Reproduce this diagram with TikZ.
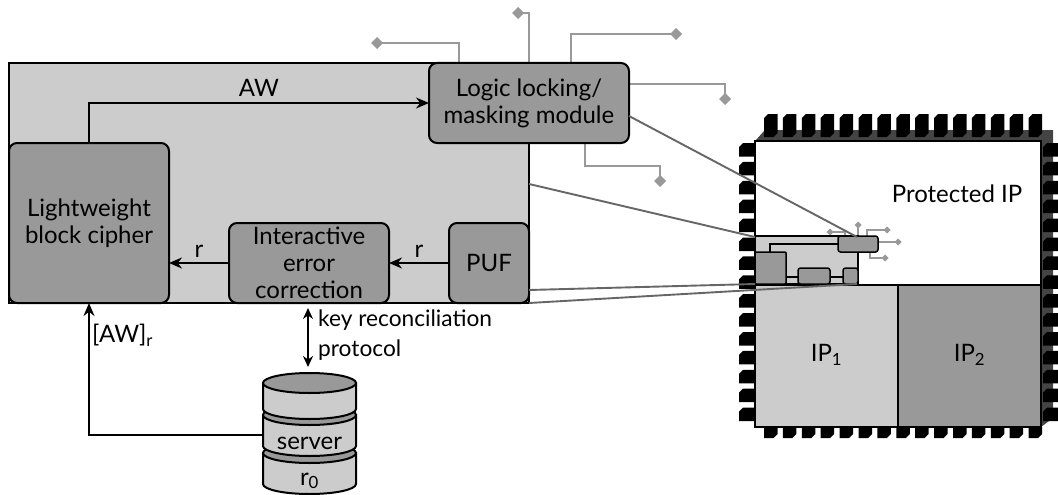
\documentclass[tikz,border=0pt]{standalone}
\usepackage{fontspec}
\setmainfont{Lato}
\usetikzlibrary{arrows.meta}
\definecolor{lg}{HTML}{CCCCCC}
\definecolor{mg}{HTML}{999999}
\definecolor{dg}{HTML}{666666}
\definecolor{cg}{HTML}{444444}
\tikzset{
  x=1pt,y=-1pt,
  panel/.style={draw=black,line width=2pt,fill=lg,inner sep=0pt,outer sep=0pt,anchor=north west},
  block/.style={draw=black,line width=2pt,fill=mg,rounded corners=8pt,inner sep=0pt,outer sep=0pt,anchor=north west,align=center,font=\fontsize{24}{27}\selectfont},
  miniblock/.style={draw=black,line width=1.5pt,fill=mg,rounded corners=2.5pt,inner sep=0pt,outer sep=0pt,anchor=north west},
  wire/.style={draw=mg,line width=1.9pt},
  miniwire/.style={draw=mg,line width=1.3pt},
  zoomline/.style={draw=dg,line width=1.9pt},
  flow/.style={draw=black,line width=2pt,-{Stealth[length=13pt,width=11pt]}},
  biflow/.style={draw=black,line width=2pt,{Stealth[length=11pt,width=10pt]}-{Stealth[length=11pt,width=10pt]}},
  miniflow/.style={draw=black,line width=1.5pt},
  lbl/.style={font=\fontsize{24}{27}\selectfont,inner sep=0pt},
  slbl/.style={font=\fontsize{22.7}{27}\selectfont,inner sep=0pt},
  pinshape/.style={fill=black,draw=none},
}
\newcommand{\dia}[3]{\fill[mg] (#2-#3,#1) -- (#2,#1-#3) -- (#2+#3,#1) -- (#2,#1+#3) -- cycle;}
\begin{document}
\begin{tikzpicture}
\useasboundingbox (0,0) rectangle (1058,495);
% chip body
\fill[cg] (755,141) -- (765,130) -- (1053,130) -- (1053,418) -- (1041,427) -- cycle;
\foreach \i in {0,...,14}{
  \pgfmathsetmacro{\p}{18.9*\i}
  \fill[pinshape] (764+\p,118) -- (768+\p,114) -- (777.5+\p,114) -- (777.5+\p,133) -- (773.5+\p,137) -- (764+\p,137) -- cycle;
  \fill[pinshape] (764+\p,427) -- (777.5+\p,427) -- (777.5+\p,434) -- (773.5+\p,438) -- (764+\p,438) -- cycle;
  \fill[pinshape] (739,147+\p) -- (743,143+\p) -- (755,143+\p) -- (755,156.5+\p) -- (739,156.5+\p) -- cycle;
  \fill[pinshape] (1043,147+\p) -- (1047,143+\p) -- (1058,143+\p) -- (1058,156.5+\p) -- (1043,156.5+\p) -- cycle;
}
\node[panel,fill=white,minimum width=286pt,minimum height=286pt] (chip) at (755,141) {};
\node[panel,minimum width=143pt,minimum height=142pt,line width=1.5pt] (ip1) at (755,285) {};
\node[panel,fill=mg,minimum width=143pt,minimum height=142pt,line width=1.5pt] (ip2) at (898,285) {};
\node[lbl] at (826.5,355) {IP\textsubscript{1}};
\node[lbl] at (969.5,355) {IP\textsubscript{2}};
\node[lbl] at (957,194) {Protected IP};
% mini grey wires
\draw[miniwire] (845,236) -- (845,232) -- (830,232);
\draw[miniwire] (858,236) -- (858,225);
\draw[miniwire] (867,236) -- (867,230) -- (887,230);
\draw[miniwire] (878,242) -- (898,242);
\draw[miniwire] (870,252) -- (870,258) -- (885,258);
\dia{232}{830}{3.5} \dia{225}{858}{3.5} \dia{230}{887}{3.5} \dia{242}{898}{3.5} \dia{258}{885}{3.5}
% mini panel
\node[panel,line width=1.5pt,minimum width=103pt,minimum height=48pt] (mp) at (755,236) {};
\draw[miniflow] (770,252) -- (770,244) -- (838,244);
\draw[miniflow] (786,277) -- (798,277) (830,277) -- (843,277);
\node[miniblock,minimum width=31pt,minimum height=32pt,rounded corners=1pt] (mc) at (755,252) {};
\node[miniblock,minimum width=32pt,minimum height=16pt] (mi) at (798,268) {};
\node[miniblock,minimum width=15pt,minimum height=16pt] (mpuf) at (843,268) {};
\node[miniblock,minimum width=40pt,minimum height=16pt] (ml) at (838,236) {};
% grey wires
\draw[wire] (459,63) -- (459,43) -- (377,43);
\draw[wire] (529,63) -- (529,13) -- (518,13);
\draw[wire] (571,63) -- (571,34) -- (676,34);
\draw[wire] (629,84) -- (725,84) -- (725,99);
\draw[wire] (585,143) -- (585,166) -- (660,166) -- (660,181);
\dia{43}{377}{6} \dia{13}{518}{6} \dia{34}{676}{6} \dia{99}{725}{6} \dia{181}{660}{6}
% main panel
\node[panel,minimum width=520pt,minimum height=240pt] (main) at (9,63) {};
\node[block,minimum width=200pt,minimum height=80pt] (logic) at (429,63) {Logic locking/\\masking module};
\node[block,minimum width=160pt,minimum height=160pt] (cipher) at (9,143) {Lightweight\\block cipher};
\node[block,minimum width=160pt,minimum height=80pt] (iec) at (229,223) {Interactive\\error\\correction};
\node[block,minimum width=80pt,minimum height=80pt] (puf) at (449,223) {PUF};
\coordinate (c1) at (89,143);
\coordinate (c2) at (89,103);
\draw[flow] (c1) -- (c2) -- (logic.west |- c2);
\draw[flow] (puf.west) -- (iec.east);
\draw[flow] (iec.west) -- (cipher.east |- iec.west);
\node[lbl] at (259,88) {AW};
\node[lbl] at (419,251) {r};
\node[lbl] at (199,251) {r};
% zoom lines
\coordinate (z1) at (857,237);
\coordinate (z2) at (755,237);
\coordinate (z3) at (755,284);
\coordinate (z4) at (857,284);
\coordinate (m1) at (629,116);
\coordinate (m2) at (529,184);
\coordinate (m3) at (529,290);
\coordinate (m4) at (529,303);
\draw[zoomline] (m1) -- (z1);
\draw[zoomline] (m2) -- (z2);
\draw[zoomline] (m3) -- (z3);
\draw[zoomline] (m4) -- (z4);
% server
\begin{scope}[draw=black,line width=2pt]
\filldraw[fill=lg] (263,453) -- (263,484) arc[start angle=180,end angle=360,x radius=46.5,y radius=-10] -- (356,453) -- cycle;
\filldraw[fill=mg] (309.5,453) ellipse[x radius=46.5,y radius=10];
\filldraw[fill=lg] (263,415) -- (263,446) arc[start angle=180,end angle=360,x radius=46.5,y radius=-10] -- (356,415) -- cycle;
\filldraw[fill=mg] (309.5,415) ellipse[x radius=46.5,y radius=10];
\filldraw[fill=lg] (263,383) -- (263,409) arc[start angle=180,end angle=360,x radius=46.5,y radius=-10] -- (356,383) -- cycle;
\filldraw[fill=mg] (309.5,383) ellipse[x radius=46.5,y radius=10];
\end{scope}
\node[lbl] (srv) at (309.5,443) {server};
\node[lbl] at (309.5,481) {r\textsubscript{0}};
\coordinate (sw) at (263,435);
\coordinate (sc) at (89,435);
\draw[flow] (sw) -- (sc) -- (cipher.south -| sc);
\coordinate (ka) at (308,308);
\coordinate (kb) at (308,367);
\draw[biflow] (ka) -- (kb);
\node[slbl,anchor=west] at (318,320) {key reconciliation};
\node[slbl,anchor=west] at (318,350) {protocol};
\node[lbl,anchor=west] at (92,335) {[AW]\textsubscript{r}};
\end{tikzpicture}
\end{document}
